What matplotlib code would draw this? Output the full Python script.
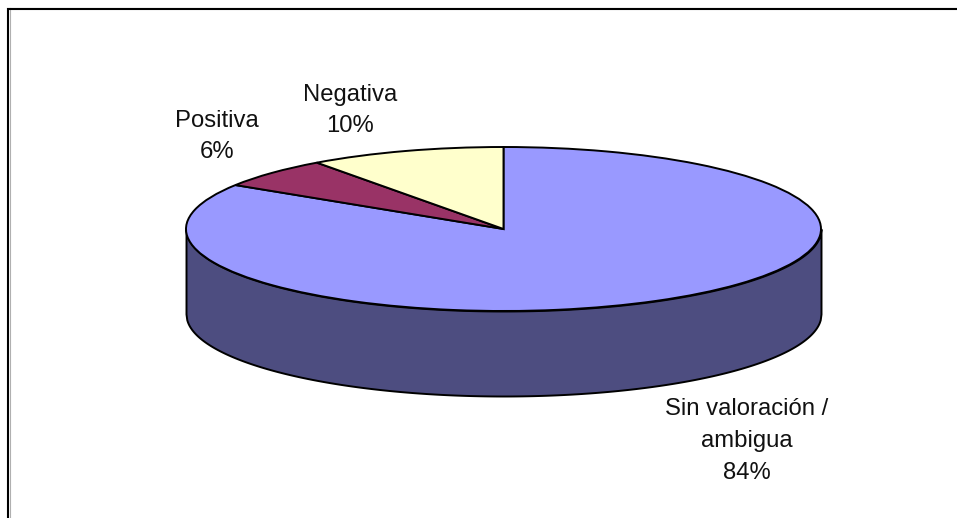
import matplotlib
matplotlib.use("Agg")
import matplotlib.pyplot as plt
import numpy as np

plt.rcParams['font.family'] = ['Liberation Sans', 'DejaVu Sans']

labels = ["Sin valoración /\nambigua\n84%", "Positiva\n6%", "Negativa\n10%"]
values = [84, 6, 10]
colors = ["#9999FF", "#993366", "#FFFFCC"]
side_color = "#4D4D80"

W, H = 957, 518
cx, cy = 503.5, 229
rx, ry = 317.5, 82
depth = 85

fig = plt.figure(figsize=(W / 100, H / 100), dpi=100)

# frame and labels work in image pixels
bg = fig.add_axes([0, 0, 1, 1])
bg.set_xlim(0, W)
bg.set_ylim(H, 0)
bg.axis("off")
bg.plot([9.5, 9.5], [8, H], color="#b0b0b0", lw=0.8)
bg.plot([7, W], [7.5, 7.5], color="#b0b0b0", lw=0.8)
bg.plot([8, 8], [8, H], color="black", lw=1.5, solid_capstyle="butt")
bg.plot([7, W], [9, 9], color="black", lw=1.5, solid_capstyle="butt")

label_pos = [(747, 441), (217, 136.5), (350, 110.5)]
for text, (tx, ty) in zip(labels, label_pos):
	bg.text(tx, ty, text, ha="center", va="center", fontsize=17.2, linespacing=1.58, color="#111111")

# pie axes: 1 unit = rx across, ry up
ax = fig.add_axes([(cx - rx) / W, 1 - (cy + ry + depth + 10) / H, 2 * rx / W, (2 * ry + depth + 10) / H])
ax.patch.set_alpha(0)

x = np.linspace(-1, 1, 801)
lower = -np.sqrt(1 - x ** 2)
ax.fill_between(x, lower, lower - depth / ry, facecolor=side_color, edgecolor="black", lw=1.4, zorder=1, clip_on=False)

wedges, _ = ax.pie(values, colors=colors, startangle=90, counterclock=False, radius=1,
	wedgeprops={"edgecolor": "black", "linewidth": 1.4, "zorder": 2})
for w in wedges:
	w.set_clip_on(False)

ax.set_aspect("auto")
ax.set_xlim(-1, 1)
ax.set_ylim(-1 - (depth + 10) / ry, 1)
ax.axis("off")

fig.savefig("out.png", dpi=100)
